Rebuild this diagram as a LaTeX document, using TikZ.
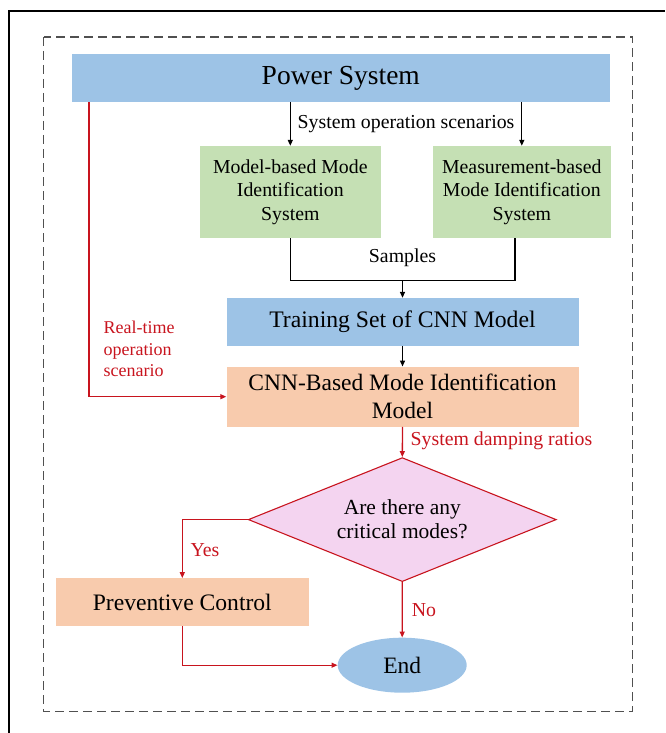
\documentclass[tikz,border=0pt]{standalone}
\usepackage{fontspec}
\setmainfont{Liberation Serif}
\usetikzlibrary{arrows.meta,shapes.geometric}

\definecolor{boxblue}{RGB}{157,195,230}
\definecolor{boxgreen}{RGB}{197,224,180}
\definecolor{boxorange}{RGB}{248,203,173}
\definecolor{boxpink}{RGB}{244,212,240}
\definecolor{flowred}{RGB}{200,20,30}
\definecolor{framegray}{RGB}{80,80,80}

\newcommand{\fs}[2]{\fontsize{#1}{#2}\selectfont}

\tikzset{
  box/.style={rectangle, draw=none, inner sep=0pt, align=center},
  blackarrow/.style={line width=1.3pt, -{Triangle[length=6pt,width=5pt]}},
  blackline/.style={line width=1.3pt},
  redarrow/.style={draw=flowred, line width=1.3pt, -{Triangle[length=6pt,width=5pt]}},
  redlabel/.style={text=flowred, inner sep=0pt},
  plainlabel/.style={inner sep=0pt},
}

\begin{document}
\begin{tikzpicture}[x=1pt,y=-1pt]
  \useasboundingbox (0,0) rectangle (665,733);

  % outer frame and dashed group border
  \draw[line width=2pt] (9,733) -- (9,11.5) -- (665,11.5);
  \draw[framegray, line width=1.5pt, dash pattern=on 9pt off 5pt]
    (43.5,37) rectangle (632.5,711.5);

  % boxes
  \node[box, fill=boxblue, minimum width=538.3pt, minimum height=47.4pt,
        font=\fs{27.5}{32}] (ps) at (340.8,78) {Power System};
  \node[box, fill=boxgreen, minimum width=180.7pt, minimum height=92pt,
        font=\fs{19.8}{23.5}] (gl) at (290.3,192) {Model-based Mode\\Identification\\System};
  \node[box, fill=boxgreen, minimum width=177.7pt, minimum height=92pt,
        font=\fs{19.8}{23.5}] (gr) at (521.8,192) {Measurement-based\\Mode Identification\\System};
  \node[box, fill=boxblue, minimum width=352pt, minimum height=47.7pt,
        font=\fs{23.7}{28}] (ts) at (402.5,321.9) {Training Set of CNN Model};
  \node[box, fill=boxorange, minimum width=352pt, minimum height=60pt,
        font=\fs{23.5}{28}] (cnn) at (402.5,396.7) {CNN-Based Mode Identification\\Model};
  \node[diamond, draw=flowred, line width=1.1pt, fill=boxpink, aspect=2.5,
        minimum width=308pt, minimum height=124pt, inner sep=0pt, align=center,
        font=\fs{21.5}{24}] (dia) at (402.3,519.6) {Are there any\\critical modes?};
  \node[box, fill=boxorange, minimum width=252.7pt, minimum height=47.4pt,
        font=\fs{23.6}{28}] (pc) at (182.3,602) {Preventive Control};
  \node[ellipse, draw=none, fill=boxblue, minimum width=129pt, minimum height=55pt,
        inner sep=0pt, font=\fs{23.5}{28}] (end) at (402.2,665.2) {End};

  % black connectors
  \draw[blackarrow] (gl.north |- ps.south) -- (gl.north);
  \draw[blackarrow] (gr.north |- ps.south) -- (gr.north);
  \coordinate (join) at (402.5,280.7);
  \draw[blackline] (gl.south) -- (gl.south |- join)
    -- ([xshift=-6.8pt]gr.south |- join) -- ([xshift=-6.8pt]gr.south);
  \draw[blackarrow] (join) -- (ts.north);
  \draw[blackarrow] (ts.south) -- (cnn.north);

  % red connectors
  \draw[redarrow] ([xshift=17.6pt]ps.south west) |- (cnn.west);
  \draw[redarrow] (cnn.south) -- (dia.north);
  \draw[redarrow] (dia.west) -| (pc.north);
  \draw[redarrow] (dia.south) -- (end.north);
  \draw[redarrow] (pc.south) |- (end.west);

  % labels
  \node[plainlabel, anchor=west, font=\fs{19.8}{23}] (lops) at (297.5,124) {System operation scenarios};
  \node[plainlabel, font=\fs{19.8}{23}] (lsam) at (402.5,258) {Samples};
  \node[redlabel, anchor=west, align=left, font=\fs{18}{21.2}] (lrt) at (103.5,349) {Real-time\\operation\\scenario};
  \node[redlabel, anchor=west, font=\fs{19.8}{23}] (ldr) at (410.5,440.7) {System damping ratios};
  \node[redlabel, font=\fs{19.8}{23}] (lyes) at (205,550) {Yes};
  \node[redlabel, font=\fs{19.8}{23}] (lno) at (424,610) {No};
\end{tikzpicture}
\end{document}
